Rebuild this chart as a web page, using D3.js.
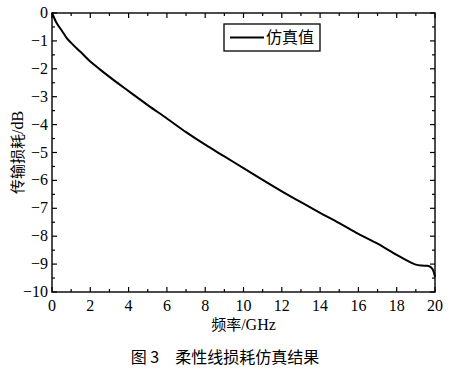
<!DOCTYPE html>
<html>
<head>
<meta charset="utf-8">
<script src="https://cdn.jsdelivr.net/npm/d3@7"></script>
<style>
  body { margin: 0; background: #fff; }
  svg text { fill: #000; }
</style>
</head>
<body>
<svg id="chart"></svg>
<script>
// data
var freq = [0, 0.25, 0.5, 0.75, 1, 1.5, 2, 2.5, 3, 4, 5, 6, 7, 8, 9, 10, 11, 12, 13, 14, 15, 16, 17, 18, 18.5, 19, 19.3, 19.6, 19.8, 19.9, 20];
var loss = [0, -0.37, -0.62, -0.88, -1.07, -1.4, -1.74, -2.02, -2.29, -2.8, -3.3, -3.78, -4.27, -4.72, -5.14, -5.56, -5.98, -6.39, -6.78, -7.16, -7.53, -7.92, -8.27, -8.67, -8.86, -9.02, -9.05, -9.06, -9.12, -9.22, -9.45];
var xTicks = [0, 2, 4, 6, 8, 10, 12, 14, 16, 18, 20];
var yTicks = [0, -1, -2, -3, -4, -5, -6, -7, -8, -9, -10];
var seriesName = "仿真值";

var margin = {top: 13, right: 24, bottom: 78, left: 52},
    width = 459 - margin.left - margin.right,
    height = 370 - margin.top - margin.bottom;

var svg = d3.select("#chart")
    .attr("width", 459)
    .attr("height", 370);
var g = svg.append("g")
    .attr("transform", "translate(" + margin.left + "," + margin.top + ")");

var x = d3.scaleLinear().domain([0, 20]).range([0, width]);
var y = d3.scaleLinear().domain([-10, 0]).range([height, 0]);

var serif = "Liberation Serif, DejaVu Serif, serif";
var cjk = "Noto Sans CJK SC, sans-serif";

// minor tick positions
var xMinor = d3.range(1, 20, 2);
var yMinor = d3.range(-9.5, 0, 1);

function tickLines(sel, vals, len, side) {
  sel.selectAll(null).data(vals).enter().append("line")
    .attr("x1", function(d) { return side == "b" || side == "t" ? x(d) : (side == "l" ? 0 : width); })
    .attr("x2", function(d) { return side == "b" || side == "t" ? x(d) : (side == "l" ? len : width - len); })
    .attr("y1", function(d) { return side == "l" || side == "r" ? y(d) : (side == "b" ? height : 0); })
    .attr("y2", function(d) { return side == "l" || side == "r" ? y(d) : (side == "b" ? height - len : len); })
    .attr("stroke", "#000")
    .attr("stroke-width", 1.2);
}

var ticks = g.append("g");
["b", "t"].forEach(function(s) {
  tickLines(ticks, xTicks, 5, s);
  tickLines(ticks, xMinor, 3, s);
});
["l", "r"].forEach(function(s) {
  tickLines(ticks, yTicks, 5, s);
  tickLines(ticks, yMinor, 3, s);
});

// frame
g.append("rect")
  .attr("width", width)
  .attr("height", height)
  .attr("fill", "none")
  .attr("stroke", "#000")
  .attr("stroke-width", 1.4);

// tick labels
g.append("g").selectAll("text").data(xTicks).enter().append("text")
  .attr("x", function(d) { return x(d); })
  .attr("y", height + 19)
  .attr("text-anchor", "middle")
  .attr("font-family", serif)
  .attr("font-size", 16)
  .text(function(d) { return d; });

g.append("g").selectAll("text").data(yTicks).enter().append("text")
  .attr("x", -4)
  .attr("y", function(d) { return y(d) + 5; })
  .attr("text-anchor", "end")
  .attr("font-family", serif)
  .attr("font-size", 16)
  .text(function(d) { return d < 0 ? "\u2212" + Math.abs(d) : d; });

// curve
var line = d3.line()
  .x(function(d, i) { return x(freq[i]); })
  .y(function(d) { return y(d); })
  .curve(d3.curveMonotoneX);

g.append("path")
  .datum(loss)
  .attr("d", line)
  .attr("fill", "none")
  .attr("stroke", "#000")
  .attr("stroke-width", 2);

// legend
var lg = svg.append("g").attr("transform", "translate(224,24)");
lg.append("rect")
  .attr("width", 96)
  .attr("height", 27)
  .attr("fill", "#fff")
  .attr("stroke", "#000")
  .attr("stroke-width", 1.3);
lg.append("line")
  .attr("x1", 6).attr("x2", 40)
  .attr("y1", 13.5).attr("y2", 13.5)
  .attr("stroke", "#000")
  .attr("stroke-width", 2);
lg.append("text")
  .attr("x", 42)
  .attr("y", 19)
  .attr("font-family", cjk)
  .attr("font-size", 16)
  .text(seriesName);

// axis titles
var xt = svg.append("text")
  .attr("x", margin.left + width / 2)
  .attr("y", 330)
  .attr("text-anchor", "middle")
  .attr("font-family", cjk)
  .attr("font-size", 15);
xt.append("tspan").text("频率");
xt.append("tspan").attr("font-family", serif).attr("font-size", 16).text("/GHz");

var yt = svg.append("text")
  .attr("transform", "translate(23," + (margin.top + height / 2) + ") rotate(-90)")
  .attr("text-anchor", "middle")
  .attr("font-family", cjk)
  .attr("font-size", 15);
yt.append("tspan").text("传输损耗");
yt.append("tspan").attr("font-family", serif).attr("font-size", 16).text("/dB");

// caption
svg.append("text")
  .attr("x", 225)
  .attr("y", 363)
  .attr("text-anchor", "middle")
  .attr("font-family", cjk)
  .attr("font-size", 16)
  .attr("xml:space", "preserve")
  .text("图 3　柔性线损耗仿真结果");
</script>
</body>
</html>
